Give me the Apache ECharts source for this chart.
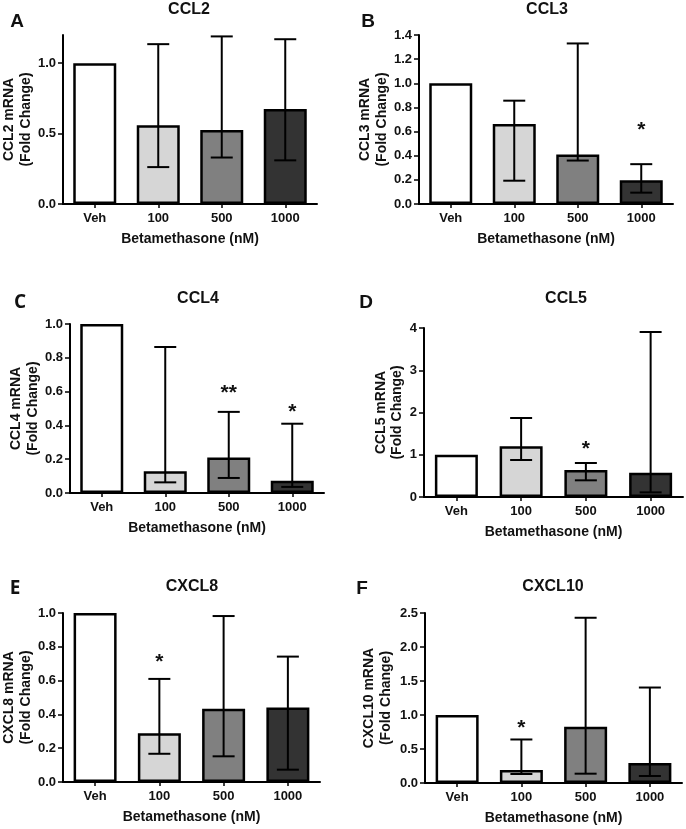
<!DOCTYPE html>
<html><head><meta charset="utf-8">
<script src="https://cdn.jsdelivr.net/npm/echarts@6/dist/echarts.min.js"></script>
<style>html,body{margin:0;padding:0;background:#fff}#c{width:686px;height:829px}</style>
</head><body><div id="c"></div>
<script>
// ---- data ----
const categories = ['Veh', '100', '500', '1000'];
const barColors = ['#ffffff', '#d6d6d6', '#808080', '#333333'];

const ccl2Mean = [1.0, 0.56, 0.525, 0.674];
const ccl2Low = [null, 0.262, 0.33, 0.31];
const ccl2High = [null, 1.135, 1.19, 1.17];
const ccl2Stars = ['', '', '', ''];
const ccl2StarY = [null, null, null, null];

const ccl3Mean = [1.0, 0.663, 0.41, 0.196];
const ccl3Low = [null, 0.193, 0.36, 0.094];
const ccl3High = [null, 0.856, 1.33, 0.33];
const ccl3Stars = ['', '', '', '*'];
const ccl3StarY = [null, null, null, 0.65];

const ccl4Mean = [1.0, 0.128, 0.21, 0.073];
const ccl4Low = [null, 0.063, 0.089, 0.036];
const ccl4High = [null, 0.864, 0.48, 0.41];
const ccl4Stars = ['', '', '**', '*'];
const ccl4StarY = [null, null, 0.62, 0.51];

const ccl5Mean = [1.0, 1.2, 0.64, 0.576];
const ccl5Low = [null, 0.876, 0.395, 0.11];
const ccl5High = [null, 1.87, 0.805, 3.905];
const ccl5Stars = ['', '', '*', ''];
const ccl5StarY = [null, null, 1.24, null];

const cxcl8Mean = [1.0, 0.289, 0.433, 0.441];
const cxcl8Low = [null, 0.167, 0.152, 0.073];
const cxcl8High = [null, 0.61, 0.982, 0.742];
const cxcl8Stars = ['', '*', '', ''];
const cxcl8StarY = [null, 0.74, null, null];

const cxcl10Mean = [1.0, 0.19, 0.827, 0.294];
const cxcl10Low = [null, 0.132, 0.137, 0.103];
const cxcl10High = [null, 0.64, 2.43, 1.404];
const cxcl10Stars = ['', '*', '', ''];
const cxcl10StarY = [null, 0.885, null, null];

const ccl2Ticks = [0, 0.5, 1.0];
const ccl3Ticks = [0, 0.2, 0.4, 0.6, 0.8, 1.0, 1.2, 1.4];
const ccl4Ticks = [0, 0.2, 0.4, 0.6, 0.8, 1.0];
const ccl5Ticks = [0, 1, 2, 3, 4];
const cxcl8Ticks = [0, 0.2, 0.4, 0.6, 0.8, 1.0];
const cxcl10Ticks = [0, 0.5, 1.0, 1.5, 2.0, 2.5];

const xAxisName = 'Betamethasone (nM)';

// ---- panels ----
const FONT = '"Liberation Sans", Arial, sans-serif';
const panels = [
  {gene:'CCL2', letter:'A', mean:ccl2Mean, low:ccl2Low, high:ccl2High, stars:ccl2Stars, starY:ccl2StarY, ticks:ccl2Ticks, max:1.2, dec:1,
   grid:{left:63, top:35, width:254, height:169}, title:[189,10], let:[17,22], letFont:FONT, ng:29},
  {gene:'CCL3', letter:'B', mean:ccl3Mean, low:ccl3Low, high:ccl3High, stars:ccl3Stars, starY:ccl3StarY, ticks:ccl3Ticks, max:1.4, dec:1,
   grid:{left:419, top:35, width:254, height:169}, title:[547,10], let:[368,22], letFont:FONT, ng:28},
  {gene:'CCL4', letter:'C', mean:ccl4Mean, low:ccl4Low, high:ccl4High, stars:ccl4Stars, starY:ccl4StarY, ticks:ccl4Ticks, max:1.0, dec:1,
   grid:{left:70, top:324, width:254, height:169}, title:[198,299], let:[20,303], letFont:'"Open Sans", sans-serif', ng:27},
  {gene:'CCL5', letter:'D', mean:ccl5Mean, low:ccl5Low, high:ccl5High, stars:ccl5Stars, starY:ccl5StarY, ticks:ccl5Ticks, max:4, dec:0,
   grid:{left:424, top:328, width:259, height:169}, title:[566,299], let:[366,303], letFont:FONT, ng:14},
  {gene:'CXCL8', letter:'E', mean:cxcl8Mean, low:cxcl8Low, high:cxcl8High, stars:cxcl8Stars, starY:cxcl8StarY, ticks:cxcl8Ticks, max:1.0, dec:1,
   grid:{left:62, top:613, width:258, height:169}, title:[192,587], let:[15,589], letFont:'"Open Sans", sans-serif', ng:26},
  {gene:'CXCL10', letter:'F', mean:cxcl10Mean, low:cxcl10Low, high:cxcl10High, stars:cxcl10Stars, starY:cxcl10StarY, ticks:cxcl10Ticks, max:2.5, dec:1,
   grid:{left:425, top:613, width:257, height:170}, title:[553,587], let:[362,589], letFont:FONT, ng:31}
];

const grids = [], xAxes = [], yAxes = [], series = [], graphics = [];
panels.forEach((p, k) => {
  grids.push(Object.assign({containLabel:false}, p.grid));
  xAxes.push({
    type:'category', gridIndex:k, data:categories,
    axisLine:{lineStyle:{color:'#000', width:2}},
    axisTick:{show:true, alignWithLabel:true, length:4, lineStyle:{color:'#000', width:1.5}},
    axisLabel:{color:'#111', fontFamily:FONT, fontWeight:'bold', fontSize:13, margin:8},
    name:xAxisName, nameLocation:'middle', nameGap:28,
    nameTextStyle:{color:'#111', fontFamily:FONT, fontWeight:'bold', fontSize:14},
    splitLine:{show:false}
  });
  yAxes.push({
    type:'value', gridIndex:k, min:0, max:p.max,
    axisLine:{show:true, lineStyle:{color:'#000', width:2}},
    axisTick:{show:true, length:5, customValues:p.ticks, lineStyle:{color:'#000', width:1.5}},
    axisLabel:{customValues:p.ticks, color:'#111', fontFamily:FONT, fontWeight:'bold', fontSize:13, margin:7,
      formatter:(v)=>Number(v).toFixed(p.dec)},
    splitLine:{show:false},
    name:p.gene + ' mRNA\n(Fold Change)', nameLocation:'middle', nameGap:p.ng, nameRotate:90,
    nameTextStyle:{color:'#111', fontFamily:FONT, fontWeight:'bold', fontSize:14, lineHeight:16.5, align:'center'}
  });
  series.push({
    type:'bar', xAxisIndex:k, yAxisIndex:k, barWidth:43,
    data:p.mean.map((v,i)=>({value:v, itemStyle:{color:barColors[i]}})),
    itemStyle:{borderColor:'#000', borderWidth:2.5},
    emphasis:{disabled:true}, animation:false
  });
  const errData = [];
  p.mean.forEach((v,i)=>{ if (p.low[i] != null) errData.push([i, p.low[i], p.high[i]]); });
  series.push({
    type:'custom', xAxisIndex:k, yAxisIndex:k, data:errData, z:5, animation:false,
    renderItem:(params, api)=>{
      const i = api.value(0);
      const a = api.coord([i, api.value(1)]);
      const b = api.coord([i, api.value(2)]);
      const w = 11;
      const st = {stroke:'#000', lineWidth:2};
      return {type:'group', children:[
        {type:'line', shape:{x1:a[0], y1:a[1], x2:b[0], y2:b[1]}, style:st},
        {type:'line', shape:{x1:a[0]-w, y1:a[1], x2:a[0]+w, y2:a[1]}, style:st},
        {type:'line', shape:{x1:b[0]-w, y1:b[1], x2:b[0]+w, y2:b[1]}, style:st}
      ]};
    }
  });
  const starData = [];
  p.starY.forEach((y,i)=>{ if (y != null) starData.push([i, y, p.stars[i]]); });
  if (starData.length) {
    series.push({
      type:'custom', xAxisIndex:k, yAxisIndex:k, data:starData.map(d=>[d[0], d[1]]), z:6, animation:false,
      renderItem:(params, api)=>{
        const c = api.coord([api.value(0), api.value(1)]);
        return {type:'text', x:c[0], y:c[1]+5, style:{text:starData[params.dataIndex][2], fill:'#111',
          font:'bold 21px ' + FONT, align:'center', verticalAlign:'middle'}};
      }
    });
  }
  graphics.push({type:'text', x:p.title[0], y:p.title[1], style:{text:p.gene, fill:'#111',
    font:'bold 16px ' + FONT, align:'center', verticalAlign:'middle'}});
  graphics.push({type:'text', x:p.let[0], y:p.let[1], style:{text:p.letter, fill:'#111',
    font:'bold 19px ' + p.letFont, align:'center', verticalAlign:'middle'}});
});

const chart = echarts.init(document.getElementById('c'), null, {renderer:'canvas'});
chart.setOption({
  animation:false, backgroundColor:'#fff',
  grid:grids, xAxis:xAxes, yAxis:yAxes, series:series, graphic:graphics
});
</script></body></html>
